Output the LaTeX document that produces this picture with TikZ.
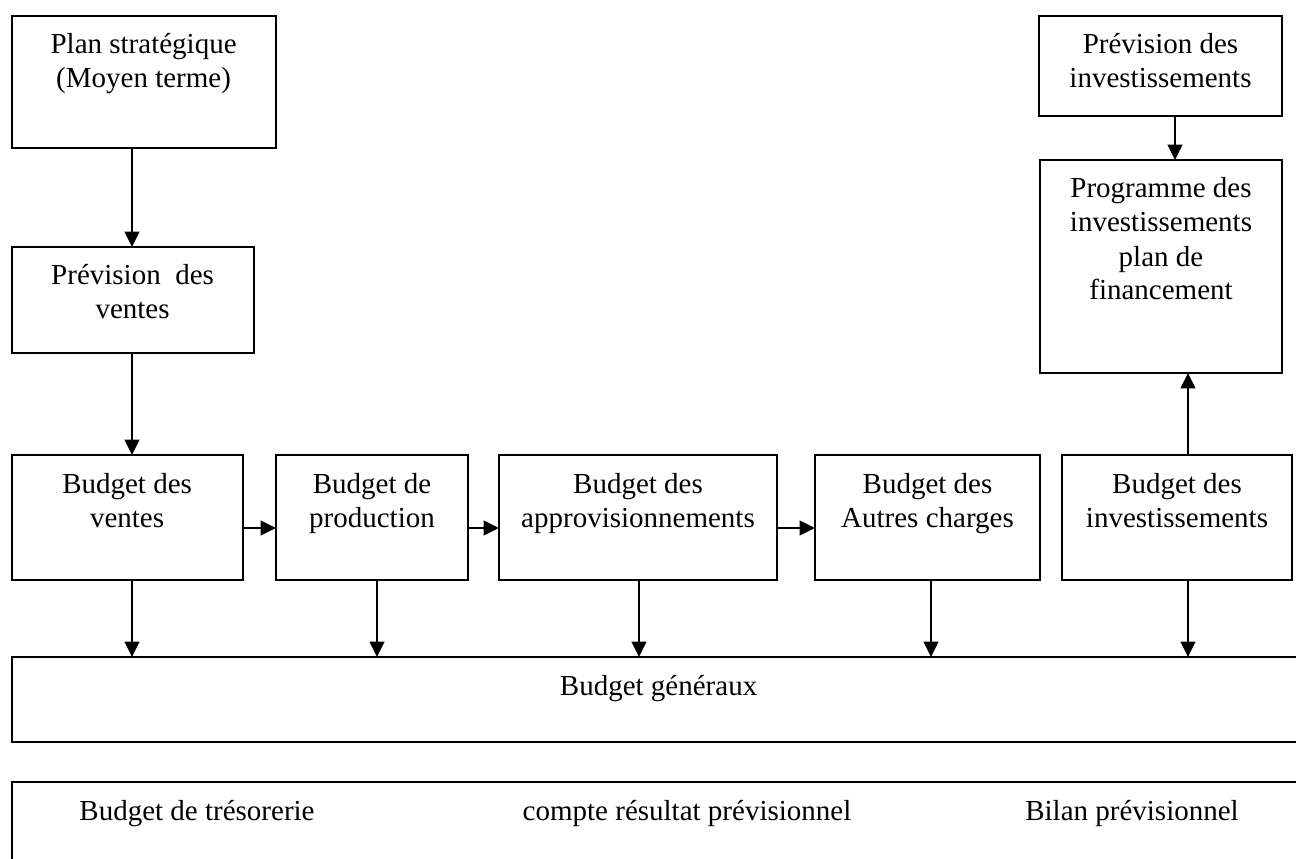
\documentclass[tikz,border=0pt]{standalone}
\usepackage{fontspec}
\setmainfont{Liberation Serif}
\usetikzlibrary{arrows.meta}

% box text: centred lines hanging from the top edge of the box
\newcommand\boxtxt[3]{\parbox[c][#2][t]{#1}{\centering\rule{0pt}{28.5pt}#3}}

\tikzset{
  panel/.style={draw, line width=1.5pt, inner sep=0pt, outer sep=0pt, anchor=north west,
                font=\fontsize{21.75pt}{25.5pt}\selectfont},
  label/.style={inner sep=0pt, anchor=base, font=\fontsize{21.75pt}{25.5pt}\selectfont},
  arr/.style={line width=1.5pt, -{Triangle[length=11.5pt,width=11pt]}}
}

\begin{document}
\begin{tikzpicture}[x=0.75pt, y=-0.75pt]
\useasboundingbox (0,0) rectangle (1296,859);
\clip (0,0) rectangle (1296,859);

% left column
\node[panel] (plan)  at (11.6,16)  {\boxtxt{198pt}{99pt}{Plan stratégique\\(Moyen terme)}};
\node[panel] (prevv) at (11.6,247) {\boxtxt{181.5pt}{79.5pt}{Prévision~~des\\ventes}};

% right column
\node[panel] (previ) at (1039,16)  {\boxtxt{182.25pt}{75pt}{Prévision des\\investissements}};
\node[panel] (prog)  at (1040,160) {\boxtxt{181.5pt}{159.75pt}{Programme des\\investissements\\plan de\\financement}};

% row of budgets
\node[panel] (bv) at (11.6,455) {\boxtxt{173.25pt}{93.75pt}{Budget des\\ventes}};
\node[panel] (bp) at (276,455)  {\boxtxt{144pt}{93.75pt}{Budget de\\production}};
\node[panel] (ba) at (499,455)  {\boxtxt{208.5pt}{93.75pt}{Budget des\\approvisionnements}};
\node[panel] (bc) at (815,455)  {\boxtxt{168.75pt}{93.75pt}{Budget des\\Autres charges}};
\node[panel] (bi) at (1062,455) {\boxtxt{172.5pt}{93.75pt}{Budget des\\investissements}};

% general budgets and final documents
\node[panel] (bg) at (11.6,657) {\boxtxt{970.5pt}{63.75pt}{Budget généraux}};
\node[panel] (bt) at (11.6,782) {\boxtxt{970.5pt}{67.5pt}{}};
\node[label] (tres) at (197,820)  {Budget de trésorerie};
\node[label] (cr)   at (687,820)  {compte résultat prévisionnel};
\node[label] (bil)  at (1132,820) {Bilan prévisionnel};

% connector guides
\coordinate (cA) at (132,0);
\coordinate (cB) at (377,0);
\coordinate (cC) at (639,0);
\coordinate (cD) at (931,0);
\coordinate (cE) at (1188,0);
\coordinate (cF) at (1175,0);
\coordinate (row) at (0,528);

\draw[arr] (plan.south -| cA) -- (prevv.north -| cA);
\draw[arr] (prevv.south -| cA) -- (bv.north -| cA);
\draw[arr] (previ.south -| cF) -- (prog.north -| cF);
\draw[arr] (bi.north -| cE) -- (prog.south -| cE);

\draw[arr] (bv.east |- row) -- (bp.west |- row);
\draw[arr] (bp.east |- row) -- (ba.west |- row);
\draw[arr] (ba.east |- row) -- (bc.west |- row);

\draw[arr] (bv.south -| cA) -- (bg.north -| cA);
\draw[arr] (bp.south -| cB) -- (bg.north -| cB);
\draw[arr] (ba.south -| cC) -- (bg.north -| cC);
\draw[arr] (bc.south -| cD) -- (bg.north -| cD);
\draw[arr] (bi.south -| cE) -- (bg.north -| cE);
\end{tikzpicture}
\end{document}
